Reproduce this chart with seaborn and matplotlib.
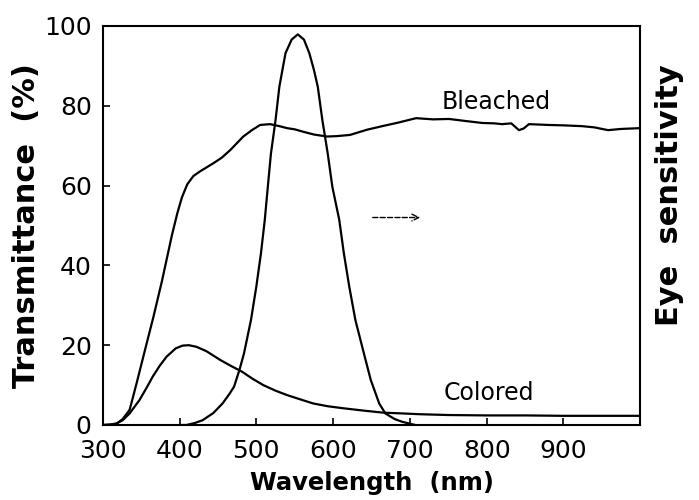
import numpy as np
import pandas as pd
import matplotlib
matplotlib.use("Agg")
import matplotlib.pyplot as plt
import seaborn as sns

# Bleached transmittance (%)
bleached_nm = [300, 310, 318, 326, 335, 344, 355, 366, 377, 390, 397, 403, 410, 418, 427, 444, 455, 466,
               483, 495, 505, 518, 530, 540, 550, 561, 575, 592, 605, 622, 644, 664, 685, 708, 730,
               751, 772, 794, 810, 820, 832, 842, 848, 855, 868, 880, 900, 924, 940, 958, 975, 1000]
bleached_t = [0.0, 0.1, 0.3, 1.5, 3.8, 10.4, 18.8, 27.1, 36.0, 47.5, 53.0, 57.0, 60.3, 62.4, 63.6, 65.6, 67.0, 68.9,
              72.3, 74.0, 75.2, 75.4, 74.9, 74.4, 74.1, 73.5, 72.8, 72.3, 72.4, 72.7, 74.0, 74.9, 75.8, 76.9, 76.6,
              76.7, 76.2, 75.7, 75.6, 75.4, 75.6, 73.9, 74.3, 75.4, 75.3, 75.2, 75.1, 74.9, 74.6, 73.9, 74.2, 74.4]

# Colored transmittance (%)
colored_nm = [300, 310, 318, 326, 335, 348, 357, 365, 374, 383, 395, 404, 412, 422, 435, 453, 467, 481,
              495, 509, 525, 540, 556, 574, 593, 613, 640, 665, 690, 713, 750, 800, 850, 900, 950, 1000]
colored_t = [0.0, 0.1, 0.4, 1.2, 2.9, 6.3, 9.3, 12.1, 14.8, 17.1, 19.2, 19.9, 20.0, 19.6, 18.5, 16.3, 14.8, 13.4,
             11.6, 10.0, 8.6, 7.5, 6.5, 5.4, 4.7, 4.2, 3.6, 3.1, 2.9, 2.7, 2.5, 2.4, 2.4, 2.3, 2.3, 2.3]

# Eye sensitivity (relative)
eye_nm = [400, 409, 420, 430, 444, 456, 465, 471, 478, 484, 493, 500, 506, 511, 515, 519, 525, 530,
          538, 546, 554, 562, 569, 575, 580, 586, 593, 599, 608, 614, 621, 629, 640, 649, 660, 668, 680, 690, 707]
eye_s = [0.0, 0.0, 0.5, 1.2, 3.0, 5.4, 7.8, 9.6, 13.8, 18.0, 26.3, 34.7, 43.0, 51.4, 59.8, 68.0, 76.4, 84.8,
         93.2, 96.6, 97.9, 96.6, 93.2, 89.0, 84.8, 76.4, 68.0, 59.7, 51.4, 43.0, 34.7, 26.3, 18.0, 11.3, 5.4, 2.9,
         1.5, 0.8, 0.0]

x_ticks = [300, 400, 500, 600, 700, 800, 900]
y_ticks = [0, 20, 40, 60, 80, 100]

sns.set_theme(style="white")
plt.rcParams['font.family'] = ['DejaVu Sans']
plt.rcParams['text.color'] = 'black'
plt.rcParams['axes.labelcolor'] = 'black'
plt.rcParams['xtick.color'] = 'black'
plt.rcParams['ytick.color'] = 'black'

fig = plt.figure(figsize=(6.99, 5.00), dpi=100)
ax = fig.add_axes([0.147, 0.15, 0.769, 0.798])

df_b = pd.DataFrame({"nm": bleached_nm, "v": bleached_t})
df_c = pd.DataFrame({"nm": colored_nm, "v": colored_t})
df_e = pd.DataFrame({"nm": eye_nm, "v": eye_s})
for d in (df_b, df_c, df_e):
    sns.lineplot(data=d, x="nm", y="v", ax=ax, color="black", linewidth=1.6, sort=True)

ax.set_xlim(300, 1000)
ax.set_ylim(0, 100)
ax.set_xticks(x_ticks)
ax.set_yticks(y_ticks)
ax.set_xticklabels([str(t) for t in x_ticks], fontsize=18)
ax.set_yticklabels([str(t) for t in y_ticks], fontsize=18)
ax.tick_params(axis="x", direction="in", length=5, width=1.2, bottom=True, top=False, pad=10)
ax.tick_params(axis="y", direction="in", length=5, width=1.2, left=True, right=False, pad=8)
for s in ax.spines.values():
    s.set_color("black")
    s.set_linewidth(1.5)

ax.set_xlabel("Wavelength  (nm)", fontsize=17.5, fontweight="bold", labelpad=6)
ax.set_ylabel("Transmittance  (%)", fontsize=22, fontweight="bold", labelpad=2)
fig.text(0.958, 0.61, "Eye  sensitivity", rotation=90, fontsize=22, fontweight="bold",
         ha="center", va="center")

ax.text(812, 81, "Bleached", fontsize=17, ha="center", va="center")
ax.text(803, 8, "Colored", fontsize=17, ha="center", va="center")

ax.annotate("", xy=(717, 52), xytext=(648, 52),
            arrowprops=dict(arrowstyle="->", color="black", lw=1.0, linestyle="--"))

fig.savefig("out.png", dpi=100)
